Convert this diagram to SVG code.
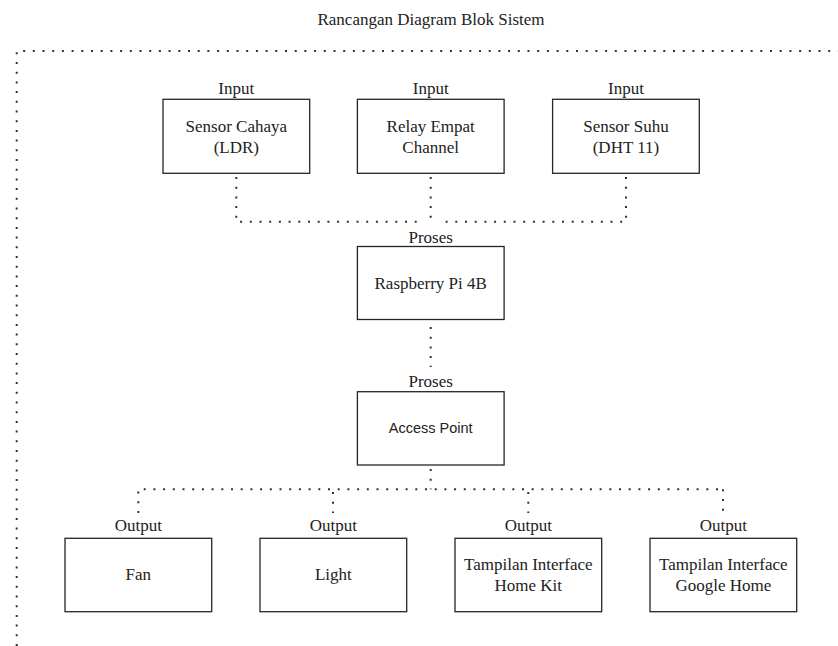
<svg xmlns="http://www.w3.org/2000/svg" width="838" height="646" viewBox="0 0 838 646">
<style>
.box{fill:#fff;stroke:#262626;stroke-width:1.3}
.dot{fill:none;stroke:#333;stroke-width:2;stroke-dasharray:2 7.7}
.t{font-family:"Liberation Serif","Times New Roman",serif;font-size:17px;fill:#222;text-anchor:middle}
.s{font-family:"Liberation Sans",Arial,sans-serif;font-size:14.5px;fill:#222;text-anchor:middle}
</style>
<rect width="838" height="646" fill="#fff"/>
<text class="t" x="431" y="25">Rancangan Diagram Blok Sistem</text>
<g id="frame"><path class="dot" d="M16.7 646 V51 H838"/></g>
<g id="connectors">
<path class="dot" d="M236.3 177 V221.7 H421"/>
<path class="dot" d="M626 177 V221.7 H441"/>
<path class="dot" d="M430.7 177 V218"/>
<path class="dot" d="M430.7 327 V367"/>
<path class="dot" d="M430.7 469 V489.3"/>
<path class="dot" d="M138.3 513 V489.3 H723"/>
<path class="dot" d="M333 492 V513"/>
<path class="dot" d="M528.3 492 V513"/>
<path class="dot" d="M723 489.3 V513"/>
</g>
<g id="sensor-cahaya">
<text class="t" x="236.3" y="93.5">Input</text>
<rect class="box" x="163" y="99.3" width="146.7" height="74"/>
<text class="t" x="236.3" y="131.5">Sensor Cahaya</text>
<text class="t" x="236.3" y="152.5">(LDR)</text>
</g>
<g id="relay">
<text class="t" x="430.7" y="93.5">Input</text>
<rect class="box" x="357.4" y="99.3" width="146.7" height="74"/>
<text class="t" x="430.7" y="131.5">Relay Empat</text>
<text class="t" x="430.7" y="152.5">Channel</text>
</g>
<g id="sensor-suhu">
<text class="t" x="626" y="93.5">Input</text>
<rect class="box" x="552.6" y="99.3" width="146.7" height="74"/>
<text class="t" x="626" y="131.5">Sensor Suhu</text>
<text class="t" x="626" y="152.5">(DHT 11)</text>
</g>
<g id="raspberry">
<text class="t" x="430.7" y="242.5">Proses</text>
<rect class="box" x="357.4" y="246.5" width="146.7" height="73"/>
<text class="t" x="430.7" y="288.5">Raspberry Pi 4B</text>
</g>
<g id="access-point">
<text class="t" x="430.7" y="387">Proses</text>
<rect class="box" x="357.4" y="391.7" width="146.7" height="73.3"/>
<text class="s" x="430.7" y="433">Access Point</text>
</g>
<g id="fan">
<text class="t" x="138.3" y="531">Output</text>
<rect class="box" x="65" y="538.3" width="146.7" height="73.4"/>
<text class="t" x="138.3" y="579.5">Fan</text>
</g>
<g id="light">
<text class="t" x="333.3" y="531">Output</text>
<rect class="box" x="260" y="538.3" width="146.7" height="73.4"/>
<text class="t" x="333.3" y="579.5">Light</text>
</g>
<g id="home-kit">
<text class="t" x="528.3" y="531">Output</text>
<rect class="box" x="455" y="538.3" width="146.7" height="73.4"/>
<text class="t" x="528.3" y="569.5">Tampilan Interface</text>
<text class="t" x="528.3" y="590.5">Home Kit</text>
</g>
<g id="google-home">
<text class="t" x="723.3" y="531">Output</text>
<rect class="box" x="650" y="538.3" width="146.7" height="73.4"/>
<text class="t" x="723.3" y="569.5">Tampilan Interface</text>
<text class="t" x="723.3" y="590.5">Google Home</text>
</g>
</svg>
